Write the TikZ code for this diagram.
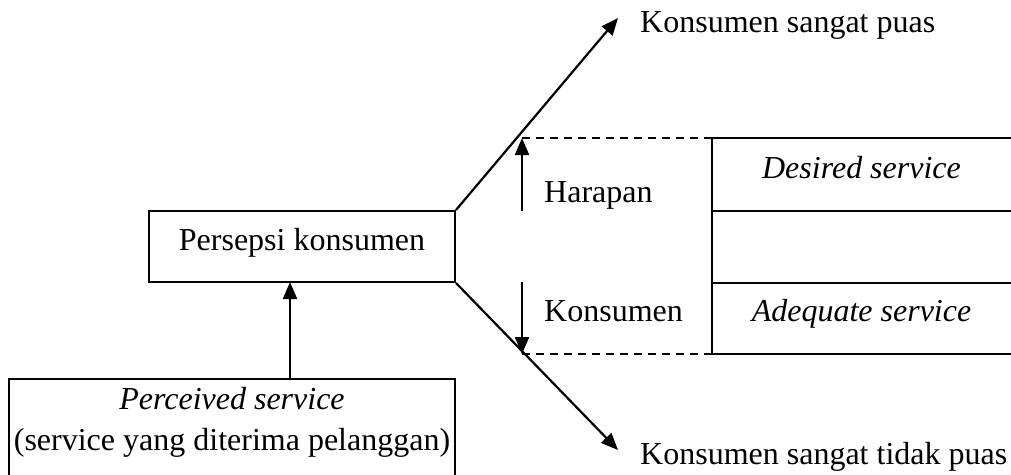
\documentclass[tikz,border=0pt]{standalone}
\usepackage{fontspec}
\setmainfont{Liberation Serif}
\usetikzlibrary{arrows.meta}
\begin{document}
\begin{tikzpicture}[x=1pt,y=-1pt,
  box/.style={draw, line width=2pt, inner sep=0pt},
  conn/.style={line width=2.2pt, -{Triangle[length=17pt,width=14pt]}},
  rulel/.style={line width=2pt},
  dashrule/.style={line width=1.6pt, dash pattern=on 8pt off 6pt},
  lbl/.style={font=\fontsize{32}{38}\selectfont, inner sep=0pt}]
\clip (0,0) rectangle (1011,474);
% boxes
\node[box, minimum width=306pt, minimum height=71pt] (pk) at (302,246.5) {};
\node[lbl, anchor=base] (pkt) at (302,250) {Persepsi konsumen};
\node[box, minimum width=446pt, minimum height=130pt, anchor=north] (perc) at (232,378) {};
\node[lbl, anchor=base] (perc1) at (232,409) {\textit{Perceived service}};
\node[lbl, anchor=base] (perc2) at (232,450) {(service yang diterima pelanggan)};
\coordinate (pa) at (290,378);
\coordinate (pb) at (290,282);
% outcome labels
\node[lbl, anchor=base west] (puas) at (640,32) {Konsumen sangat puas};
\node[lbl, anchor=base west] (tpuas) at (640,464) {Konsumen sangat tidak puas};
\coordinate (tipup) at (618,18);
\coordinate (tipdn) at (618,450);
% table coordinates
\coordinate (d1) at (522,138);
\coordinate (v1) at (712,138);
\coordinate (r1) at (1015,138);
\coordinate (v2) at (712,210.5);
\coordinate (r2) at (1015,210.5);
\coordinate (v3) at (712,282.5);
\coordinate (r3) at (1015,282.5);
\coordinate (d4) at (522,354);
\coordinate (v4) at (712,354);
\coordinate (r4) at (1015,354);
\coordinate (a1) at (522,211);
\coordinate (a2) at (522,282);
% table
\draw[dashrule] (d1) -- (v1);
\draw[dashrule] (d4) -- (v4);
\draw[rulel] (v1) -- (r1);
\draw[rulel] (v2) -- (r2);
\draw[rulel] (v3) -- (r3);
\draw[rulel] (v4) -- (r4);
\draw[rulel] (v1) -- (v4);
\node[lbl, anchor=base] (des) at (861.5,178) {\textit{Desired service}};
\node[lbl, anchor=base] (ade) at (861.5,321) {\textit{Adequate service}};
\node[lbl, anchor=base west] (har) at (544,202) {Harapan};
\node[lbl, anchor=base west] (kon) at (544,321) {Konsumen};
% arrows
\draw[conn] (pa) -- (pb);
\draw[conn] (pk.north east) -- (tipup);
\draw[conn] (pk.south east) -- (tipdn);
\draw[conn] (a1) -- (d1);
\draw[conn] (a2) -- (d4);
\end{tikzpicture}
\end{document}
